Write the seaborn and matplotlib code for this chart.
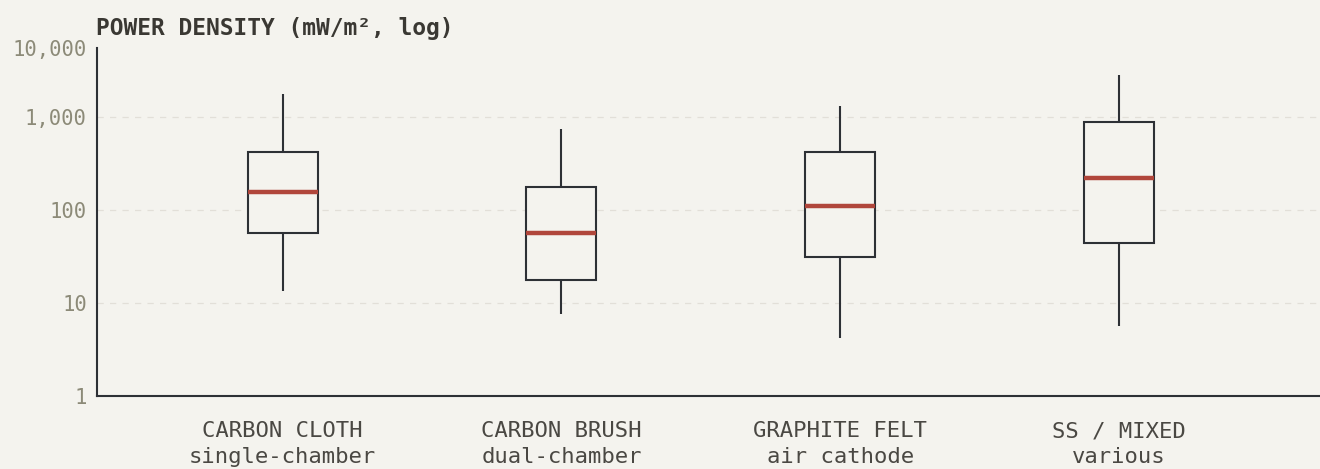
import numpy as np
import pandas as pd
import matplotlib
matplotlib.use("Agg")
import matplotlib.pyplot as plt
import seaborn as sns

# Data (five-number summaries, mW/m²)
categories = ["CARBON CLOTH\nsingle-chamber", "CARBON BRUSH\ndual-chamber",
              "GRAPHITE FELT\nair cathode", "SS / MIXED\nvarious"]
whisker_low = [13.5, 7.6, 4.2, 5.7]
q1 = [56, 17.7, 31.5, 44.5]
median = [157, 56, 111, 222]
q3 = [420, 177, 420, 890]
whisker_high = [1770, 740, 1320, 2800]
ytick_values = [1, 10, 100, 1000]
ytick_labels = ["1", "10", "100", "1,000", "10,000"]

BG = "#f4f3ee"
INK = "#2d3035"
RED = "#b0463b"
TICK = "#8c8a78"
LABEL = "#4a4843"
GRID = "#e2dfd8"

rows = []
for i, c in enumerate(categories):
    for v in (whisker_low[i], q1[i], median[i], q3[i], whisker_high[i]):
        rows.append({"material": c, "power": v})
df = pd.DataFrame(rows)

sns.set_theme(style="white")
plt.rcParams["font.family"] = ["DejaVu Sans Mono", "DejaVu Sans"]

W, H = 1320, 469
fig = plt.figure(figsize=(W / 100, H / 100), dpi=100, facecolor=BG)
ax = fig.add_axes([96.5 / W, 73 / H, 1 - 96.5 / W, 348 / H])
ax.set_facecolor(BG)
ax.set_yscale("log")

sns.boxplot(data=df, x="material", y="power", order=categories, ax=ax,
            whis=(0, 100), width=0.251, showcaps=False, showfliers=False,
            boxprops=dict(facecolor=BG, edgecolor=INK, linewidth=1.5),
            whiskerprops=dict(color=INK, linewidth=1.5),
            medianprops=dict(color=RED, linewidth=3.2),
            linecolor=INK)

top = 10 ** (348 / 93)
ax.set_ylim(1, top)
ax.set_xlim(-0.667, 3.72)
ax.set_yticks(ytick_values + [top])
ax.set_yticklabels(ytick_labels)
ax.yaxis.set_minor_locator(matplotlib.ticker.NullLocator())
for v in ytick_values[1:]:
    ax.axhline(v, color=GRID, linewidth=0.9, linestyle=(0, (5, 5)), zorder=0)

ax.tick_params(axis="y", length=0, pad=7, labelsize=14.8, labelcolor=TICK)
ax.tick_params(axis="x", length=0, pad=18, labelsize=16, labelcolor=LABEL)
for t in ax.get_xticklabels():
    t.set_linespacing(1.37)
ax.set_xlabel("")
ax.set_ylabel("")

for s in ("top", "right"):
    ax.spines[s].set_visible(False)
for s in ("left", "bottom"):
    ax.spines[s].set_color(INK)
    ax.spines[s].set_linewidth(1.5)

fig.text(96 / W, 1 - 28 / H, "POWER DENSITY (mW/m², log)", ha="left", va="center",
         fontsize=16.5, fontweight="bold", color="#3a3833")

fig.savefig("out.png", dpi=100, facecolor=BG)
